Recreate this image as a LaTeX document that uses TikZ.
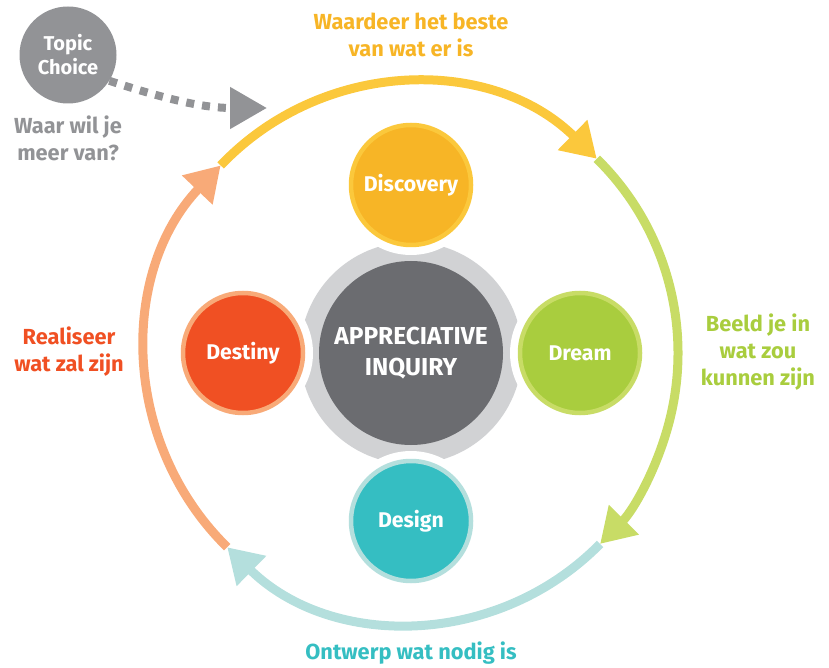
\documentclass[tikz,border=0pt]{standalone}
\usepackage{fontspec}
\setmainfont{Fira Sans}
\usetikzlibrary{arrows.meta,calc}
\definecolor{discfill}{HTML}{F7B526}
\definecolor{discline}{HTML}{FBC83C}
\definecolor{dreamfill}{HTML}{A9CD3E}
\definecolor{dreamline}{HTML}{C8DC66}
\definecolor{desfill}{HTML}{35BEC2}
\definecolor{desline}{HTML}{B4DFDD}
\definecolor{destfill}{HTML}{F05023}
\definecolor{destline}{HTML}{F8AA78}
\definecolor{geardark}{HTML}{6B6C70}
\definecolor{gearlight}{HTML}{D1D2D4}
\definecolor{topicgray}{HTML}{929396}
\begin{document}
\begin{tikzpicture}[x=1pt,y=1pt,
  lbl/.style={align=center,font=\fontsize{21.8}{27}\selectfont\bfseries},
  phase/.style={circle,minimum size=120pt,inner sep=0pt,line width=4.5pt,
    text=white,font=\fontsize{21.3}{24}\selectfont\bfseries},
  ring/.style={line width=9pt,-{Triangle[length=34pt,width=40pt]}}]
 \useasboundingbox (0,0) rectangle (829,667);
 \coordinate (c) at (412,314);
 % gear in the middle
 \fill[gearlight] (411,314) circle[radius=111pt];
 \foreach \p in {(411,482),(580,314),(243,314),(411,146)}
   \fill[white] \p circle[radius=70pt];
 \node[circle,fill=geardark,minimum size=184pt,inner sep=0pt,text=white,
   align=center,font=\fontsize{24.5}{31}\selectfont\bfseries] (ai) at (411,314) {APPRECIATIVE\\INQUIRY};
 % the four phases
 \node[phase,fill=discfill,draw=discline] (discovery) at (411,482) {Discovery};
 \node[phase,fill=dreamfill,draw=dreamline] (dream) at (580,314) {Dream};
 \node[phase,fill=desfill,draw=desline] (design) at (411,146) {Design};
 \node[phase,fill=destfill,draw=destline] (destiny) at (243,314) {Destiny};
 % the cycle
 \coordinate (p1) at ($(c)+(136:266pt and 270pt)$);
 \coordinate (p2) at ($(c)+(46:266pt and 270pt)$);
 \coordinate (p3) at ($(c)+(-45:266pt and 270pt)$);
 \coordinate (p4) at ($(c)+(-134:266pt and 270pt)$);
 \draw[ring,destline] (p4) arc[start angle=-134,end angle=-224,x radius=266pt,y radius=270pt];
 \draw[ring,desline] (p3) arc[start angle=-45,end angle=-134,x radius=266pt,y radius=270pt];
 \draw[ring,dreamline] (p2) arc[start angle=46,end angle=-45,x radius=266pt,y radius=270pt];
 \draw[ring,discline] (p1) arc[start angle=136,end angle=46,x radius=266pt,y radius=270pt];
 % texts round the cycle
 \node[lbl,text=discfill] (t1) at (411,632) {Waardeer het beste\\van wat er is};
 \node[lbl,text=dreamfill] (t2) at (758,315) {Beeld je in\\wat zou\\kunnen zijn};
 \node[lbl,text=desfill] (t3) at (411,14) {Ontwerp wat nodig is};
 \node[lbl,text=destfill] (t4) at (69,315) {Realiseer\\wat zal zijn};
 % topic choice
 \node[circle,fill=topicgray,minimum size=97pt,inner sep=0pt,text=white,align=center,
   font=\fontsize{20}{24}\selectfont\bfseries] (topic) at (68,612) {Topic\\Choice};
 \node[lbl,text=topicgray] (ask) at (68,529) {Waar wil je\\meer van?};
 \coordinate (entry) at (267,559);
 \draw[topicgray,line width=8pt,dash pattern=on 8pt off 8pt,
   -{Triangle[length=37pt,width=40pt]}] (topic.-32) to[out=-18,in=180] (entry);
\end{tikzpicture}
\end{document}
